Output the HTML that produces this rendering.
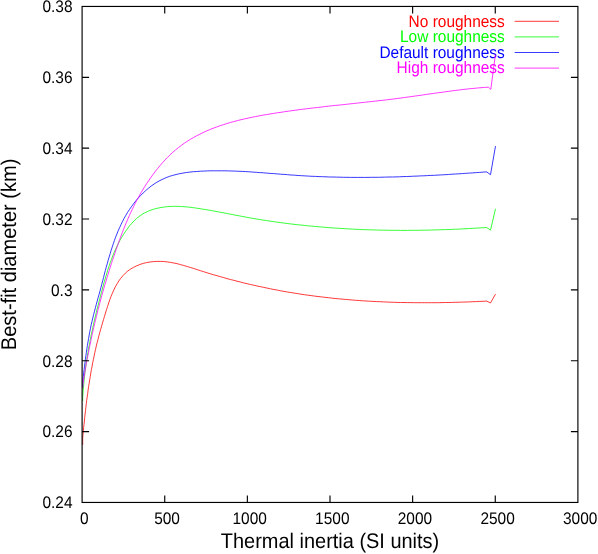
<!DOCTYPE html>
<html><head><meta charset="utf-8"><style>
html,body{margin:0;padding:0;background:#fff;}
svg{display:block;font-family:"Liberation Sans",sans-serif;text-rendering:geometricPrecision;} svg{will-change:transform;opacity:0.999}
</style></head><body>
<svg width="598" height="554" viewBox="0 0 598 554">
<rect width="598" height="554" fill="#fff"/>
<g fill="none" stroke-width="0.78" stroke-linejoin="round">
</g>
<g font-size="15.45px" fill="#000"><text transform="translate(504.80,26.60) scale(0.9259,1)" font-size="16.69px" text-anchor="end" fill="#ff0000">No roughness</text><path d="M514.7,21.3 H559" stroke="#ff0000" stroke-width="0.78" fill="none"/><polyline stroke="#ff0000" fill="none" stroke-width="0.78" stroke-linejoin="round" points="82.7,444.8 82.7,441.4 82.7,438.0 83.0,434.6 83.3,431.2 83.6,427.8 84.0,424.4 84.4,421.0 84.7,417.5 85.1,414.1 85.5,410.7 85.9,407.2 86.3,403.8 86.7,400.4 87.2,396.9 87.7,393.5 88.1,390.1 88.6,386.7 89.2,383.2 89.7,379.8 90.3,376.4 90.8,373.0 91.4,369.6 92.1,366.2 92.7,362.8 93.4,359.4 94.1,356.1 94.8,352.7 95.5,349.4 96.3,346.0 97.1,342.7 98.0,339.4 98.8,336.1 99.7,332.8 100.6,329.5 101.6,326.2 102.5,322.9 103.5,319.6 104.5,316.3 105.5,313.0 106.5,309.7 107.6,306.4 108.7,303.0 109.8,299.7 111.0,296.5 112.4,293.2 113.8,290.1 115.3,286.9 117.0,283.9 118.8,281.0 120.8,278.2 123.0,275.6 125.4,273.1 127.9,270.9 130.7,269.0 133.6,267.3 136.7,265.8 139.9,264.5 143.2,263.4 146.5,262.6 149.9,262.0 153.4,261.6 156.8,261.4 160.3,261.4 163.7,261.5 167.1,261.9 170.4,262.4 173.8,263.0 177.2,263.7 180.5,264.6 183.8,265.5 187.2,266.5 190.5,267.5 193.8,268.5 197.1,269.6 200.4,270.7 203.7,271.7 207.1,272.8 210.4,273.8 213.7,274.8 217.0,275.7 220.4,276.7 223.7,277.6 227.0,278.6 230.3,279.5 233.7,280.3 237.0,281.2 240.4,282.0 243.7,282.9 247.1,283.7 250.4,284.5 253.8,285.2 257.1,286.0 260.5,286.7 263.8,287.4 267.2,288.1 270.5,288.8 273.9,289.5 277.3,290.1 280.7,290.8 284.0,291.4 287.4,292.0 290.8,292.5 294.2,293.1 297.6,293.6 301.0,294.2 304.4,294.7 307.8,295.2 311.2,295.6 314.6,296.1 318.0,296.5 321.4,296.9 324.9,297.3 328.3,297.7 331.7,298.1 335.1,298.5 338.6,298.8 342.0,299.1 345.4,299.4 348.9,299.7 352.3,300.0 355.7,300.3 359.2,300.5 362.6,300.8 366.1,301.0 369.5,301.2 373.0,301.4 376.4,301.6 379.9,301.7 383.3,301.9 386.8,302.0 390.2,302.2 393.7,302.3 397.1,302.4 400.6,302.5 404.0,302.5 407.5,302.6 410.9,302.6 414.4,302.7 417.8,302.7 421.3,302.7 424.7,302.7 428.2,302.7 431.7,302.7 435.1,302.7 438.5,302.7 442.0,302.6 445.4,302.5 448.9,302.5 452.3,302.4 455.8,302.3 459.2,302.2 462.6,302.1 466.1,302.0 469.5,301.9 472.9,301.7 476.4,301.6 479.8,301.4 483.2,301.3 486.6,301.1 490.5,302.9 495.5,294.1"/><text transform="translate(504.80,42.20) scale(0.9259,1)" font-size="16.69px" text-anchor="end" fill="#00ff00">Low roughness</text><path d="M514.7,36.9 H559" stroke="#00ff00" stroke-width="0.78" fill="none"/><polyline stroke="#00ff00" fill="none" stroke-width="0.78" stroke-linejoin="round" points="82.7,400.9 82.7,397.4 82.9,393.9 83.2,390.5 83.5,387.0 83.8,383.5 84.1,380.1 84.5,376.7 84.9,373.2 85.3,369.8 85.8,366.4 86.2,363.0 86.8,359.6 87.3,356.2 87.9,352.8 88.4,349.4 89.1,346.1 89.7,342.7 90.4,339.3 91.0,336.0 91.7,332.6 92.5,329.3 93.2,325.9 93.9,322.6 94.7,319.2 95.5,315.9 96.3,312.5 97.1,309.2 98.0,305.8 98.8,302.5 99.7,299.2 100.5,295.8 101.4,292.5 102.3,289.1 103.2,285.8 104.1,282.4 105.1,279.1 106.1,275.7 107.1,272.4 108.1,269.1 109.2,265.8 110.3,262.5 111.5,259.3 112.7,256.1 114.0,252.9 115.4,249.7 116.8,246.6 118.3,243.5 119.9,240.5 121.6,237.5 123.4,234.6 125.3,231.7 127.3,228.9 129.3,226.1 131.6,223.5 133.9,221.0 136.4,218.6 139.0,216.5 141.8,214.5 144.8,212.8 147.8,211.4 151.0,210.1 154.3,209.0 157.6,208.2 161.0,207.5 164.4,207.0 167.8,206.6 171.2,206.4 174.7,206.3 178.1,206.4 181.6,206.5 185.1,206.8 188.6,207.1 192.1,207.5 195.5,208.0 199.0,208.5 202.4,209.1 205.9,209.6 209.3,210.2 212.7,210.8 216.0,211.4 219.4,212.1 222.8,212.7 226.1,213.3 229.5,214.0 232.8,214.6 236.2,215.3 239.6,215.9 242.9,216.6 246.3,217.2 249.6,217.8 253.0,218.4 256.4,219.0 259.8,219.5 263.2,220.1 266.6,220.6 270.0,221.1 273.4,221.6 276.8,222.1 280.2,222.6 283.7,223.0 287.1,223.5 290.5,223.9 294.0,224.3 297.4,224.7 300.8,225.0 304.3,225.4 307.7,225.8 311.2,226.1 314.6,226.4 318.0,226.7 321.5,227.0 324.9,227.3 328.3,227.6 331.8,227.8 335.2,228.1 338.7,228.3 342.1,228.5 345.5,228.7 349.0,228.9 352.4,229.1 355.9,229.3 359.3,229.4 362.7,229.6 366.2,229.7 369.6,229.8 373.1,229.9 376.5,230.0 379.9,230.1 383.4,230.2 386.8,230.2 390.3,230.3 393.7,230.3 397.2,230.3 400.6,230.4 404.0,230.4 407.5,230.4 410.9,230.3 414.4,230.3 417.8,230.3 421.3,230.2 424.7,230.2 428.1,230.1 431.6,230.0 435.0,229.9 438.5,229.8 441.9,229.7 445.4,229.6 448.8,229.5 452.3,229.4 455.7,229.2 459.1,229.1 462.6,228.9 466.0,228.7 469.5,228.5 472.9,228.3 476.4,228.1 479.8,227.9 483.3,227.7 486.7,227.5 490.5,230.1 495.5,208.8"/><text transform="translate(504.80,57.80) scale(0.9259,1)" font-size="16.69px" text-anchor="end" fill="#0000ff">Default roughness</text><path d="M514.7,52.5 H559" stroke="#0000ff" stroke-width="0.78" fill="none"/><polyline stroke="#0000ff" fill="none" stroke-width="0.78" stroke-linejoin="round" points="82.7,387.0 82.7,383.5 82.9,380.1 83.3,376.6 83.7,373.1 84.1,369.6 84.5,366.2 85.0,362.7 85.4,359.2 85.9,355.8 86.4,352.3 86.9,348.8 87.4,345.4 88.0,341.9 88.6,338.5 89.2,335.0 89.8,331.6 90.5,328.2 91.2,324.8 92.0,321.4 92.8,318.0 93.6,314.6 94.5,311.2 95.4,307.8 96.3,304.4 97.2,301.1 98.1,297.7 99.1,294.3 100.0,291.0 100.9,287.6 101.8,284.2 102.7,280.8 103.6,277.4 104.4,274.0 105.3,270.6 106.2,267.3 107.2,263.9 108.1,260.5 109.1,257.1 110.1,253.8 111.1,250.4 112.2,247.1 113.3,243.8 114.4,240.5 115.6,237.2 116.9,234.0 118.2,230.8 119.6,227.6 121.1,224.4 122.6,221.3 124.2,218.2 125.9,215.2 127.7,212.2 129.6,209.3 131.6,206.4 133.7,203.6 135.9,200.8 138.2,198.1 140.6,195.5 143.1,193.0 145.7,190.6 148.4,188.3 151.1,186.1 154.0,184.1 156.9,182.2 160.0,180.5 163.1,179.0 166.2,177.6 169.4,176.4 172.7,175.4 176.1,174.5 179.5,173.7 182.9,173.1 186.3,172.5 189.8,172.1 193.3,171.7 196.8,171.5 200.3,171.2 203.8,171.1 207.3,170.9 210.9,170.8 214.4,170.8 217.9,170.8 221.4,170.8 224.9,170.8 228.4,170.9 231.9,171.0 235.4,171.1 238.9,171.3 242.3,171.4 245.8,171.6 249.3,171.8 252.8,172.1 256.3,172.3 259.8,172.6 263.3,172.8 266.7,173.1 270.2,173.4 273.7,173.6 277.2,173.9 280.7,174.2 284.2,174.4 287.6,174.7 291.1,175.0 294.6,175.2 298.1,175.5 301.6,175.7 305.1,175.9 308.6,176.1 312.1,176.3 315.5,176.4 319.0,176.6 322.5,176.7 326.0,176.8 329.5,177.0 333.0,177.0 336.5,177.1 340.0,177.2 343.5,177.3 347.0,177.3 350.5,177.4 354.0,177.4 357.5,177.4 361.0,177.4 364.5,177.4 368.0,177.4 371.5,177.3 375.0,177.3 378.5,177.3 382.0,177.2 385.5,177.1 389.0,177.0 392.5,177.0 396.0,176.9 399.5,176.8 403.0,176.6 406.5,176.5 410.0,176.4 413.5,176.2 417.0,176.1 420.4,175.9 423.9,175.8 427.4,175.6 430.9,175.4 434.4,175.3 437.9,175.1 441.4,174.9 444.9,174.7 448.4,174.5 451.9,174.2 455.4,174.0 458.9,173.8 462.3,173.6 465.8,173.3 469.3,173.1 472.8,172.9 476.3,172.6 479.7,172.4 483.2,172.1 486.7,171.9 490.5,174.7 495.5,146.1"/><text transform="translate(504.80,73.40) scale(0.9259,1)" font-size="16.69px" text-anchor="end" fill="#ff00ff">High roughness</text><path d="M514.7,68.1 H559" stroke="#ff00ff" stroke-width="0.78" fill="none"/><polyline stroke="#ff00ff" fill="none" stroke-width="0.78" stroke-linejoin="round" points="82.7,388.5 82.8,384.9 83.4,381.2 84.0,377.6 84.6,374.0 85.2,370.4 85.8,366.8 86.4,363.2 87.1,359.6 87.8,356.0 88.5,352.4 89.2,348.8 89.9,345.2 90.7,341.6 91.4,338.0 92.2,334.4 93.0,330.9 93.8,327.3 94.6,323.7 95.5,320.1 96.4,316.6 97.2,313.0 98.1,309.4 99.1,305.9 100.0,302.3 100.9,298.8 101.9,295.2 102.9,291.7 103.9,288.2 104.9,284.7 106.0,281.1 107.0,277.6 108.1,274.1 109.2,270.6 110.3,267.1 111.4,263.6 112.5,260.1 113.7,256.7 114.9,253.2 116.1,249.7 117.3,246.3 118.5,242.9 119.7,239.4 121.0,236.0 122.3,232.6 123.6,229.2 125.0,225.8 126.4,222.4 127.8,219.1 129.3,215.7 130.8,212.4 132.4,209.1 134.0,205.8 135.6,202.6 137.3,199.3 139.1,196.1 140.9,192.9 142.8,189.8 144.7,186.6 146.7,183.5 148.8,180.5 150.9,177.4 153.1,174.4 155.3,171.4 157.6,168.5 160.0,165.7 162.4,162.8 164.9,160.1 167.5,157.4 170.1,154.8 172.8,152.3 175.6,149.9 178.4,147.6 181.3,145.4 184.2,143.3 187.2,141.3 190.3,139.4 193.4,137.6 196.6,135.8 199.8,134.2 203.0,132.6 206.3,131.1 209.6,129.7 213.0,128.3 216.4,127.1 219.8,125.8 223.3,124.7 226.8,123.6 230.3,122.5 233.8,121.6 237.4,120.6 241.0,119.7 244.6,118.9 248.2,118.1 251.8,117.3 255.5,116.6 259.1,115.9 262.7,115.2 266.4,114.6 270.0,114.0 273.7,113.4 277.3,112.8 281.0,112.3 284.6,111.7 288.3,111.2 291.9,110.7 295.5,110.2 299.2,109.7 302.8,109.2 306.4,108.8 310.1,108.3 313.7,107.9 317.3,107.5 321.0,107.1 324.6,106.6 328.2,106.2 331.9,105.8 335.5,105.4 339.1,105.1 342.7,104.7 346.4,104.3 350.0,103.9 353.6,103.5 357.3,103.1 360.9,102.7 364.5,102.3 368.2,101.9 371.8,101.5 375.4,101.1 379.0,100.7 382.7,100.3 386.3,99.9 390.0,99.4 393.6,99.0 397.2,98.5 400.9,98.0 404.5,97.5 408.2,97.0 411.8,96.5 415.4,96.0 419.1,95.5 422.7,95.0 426.4,94.4 430.0,93.9 433.7,93.4 437.3,92.9 441.0,92.4 444.6,91.9 448.3,91.4 451.9,90.9 455.6,90.4 459.2,90.0 462.8,89.5 466.5,89.1 470.1,88.7 473.8,88.4 477.4,88.0 481.0,87.7 484.6,87.4 488.3,87.2 490.8,89.3 495.4,54.6"/></g>
<g stroke="#000" stroke-width="1.15" fill="none">
<rect x="82.1" y="6.45" width="495.8" height="496.0"/>
<path d="M164.73,502.45 v-7 M164.73,6.45 v7"/><path d="M247.37,502.45 v-7 M247.37,6.45 v7"/><path d="M330.00,502.45 v-7 M330.00,6.45 v7"/><path d="M412.63,502.45 v-7 M412.63,6.45 v7"/><path d="M495.27,502.45 v-7 M495.27,6.45 v7"/><path d="M82.1,77.31 h7 M577.9,77.31 h-7"/><path d="M82.1,148.16 h7 M577.9,148.16 h-7"/><path d="M82.1,219.02 h7 M577.9,219.02 h-7"/><path d="M82.1,289.88 h7 M577.9,289.88 h-7"/><path d="M82.1,360.74 h7 M577.9,360.74 h-7"/><path d="M82.1,431.59 h7 M577.9,431.59 h-7"/>
</g>
<g font-size="15.45px" fill="#000"><text transform="translate(84.40,523.80) scale(0.9259,1)" font-size="16.69px" text-anchor="middle" fill="#000">0</text><text transform="translate(167.03,523.80) scale(0.9259,1)" font-size="16.69px" text-anchor="middle" fill="#000">500</text><text transform="translate(249.67,523.80) scale(0.9259,1)" font-size="16.69px" text-anchor="middle" fill="#000">1000</text><text transform="translate(332.30,523.80) scale(0.9259,1)" font-size="16.69px" text-anchor="middle" fill="#000">1500</text><text transform="translate(414.93,523.80) scale(0.9259,1)" font-size="16.69px" text-anchor="middle" fill="#000">2000</text><text transform="translate(497.57,523.80) scale(0.9259,1)" font-size="16.69px" text-anchor="middle" fill="#000">2500</text><text transform="translate(580.20,523.80) scale(0.9259,1)" font-size="16.69px" text-anchor="middle" fill="#000">3000</text><text transform="translate(72.50,12.35) scale(0.9259,1)" font-size="16.69px" text-anchor="end" fill="#000">0.38</text><text transform="translate(72.50,83.21) scale(0.9259,1)" font-size="16.69px" text-anchor="end" fill="#000">0.36</text><text transform="translate(72.50,154.06) scale(0.9259,1)" font-size="16.69px" text-anchor="end" fill="#000">0.34</text><text transform="translate(72.50,224.92) scale(0.9259,1)" font-size="16.69px" text-anchor="end" fill="#000">0.32</text><text transform="translate(72.50,295.78) scale(0.9259,1)" font-size="16.69px" text-anchor="end" fill="#000">0.3</text><text transform="translate(72.50,366.64) scale(0.9259,1)" font-size="16.69px" text-anchor="end" fill="#000">0.28</text><text transform="translate(72.50,437.49) scale(0.9259,1)" font-size="16.69px" text-anchor="end" fill="#000">0.26</text><text transform="translate(72.50,508.35) scale(0.9259,1)" font-size="16.69px" text-anchor="end" fill="#000">0.24</text></g>
<text transform="translate(330.00,548.40) scale(0.9434,1)" font-size="21.15px" text-anchor="middle" fill="#000">Thermal inertia (SI units)</text>
<text transform="translate(16.10,254.40) rotate(-90) scale(0.9434,1)" font-size="21.25px" text-anchor="middle" fill="#000">Best-fit diameter (km)</text>
</svg>
</body></html>
